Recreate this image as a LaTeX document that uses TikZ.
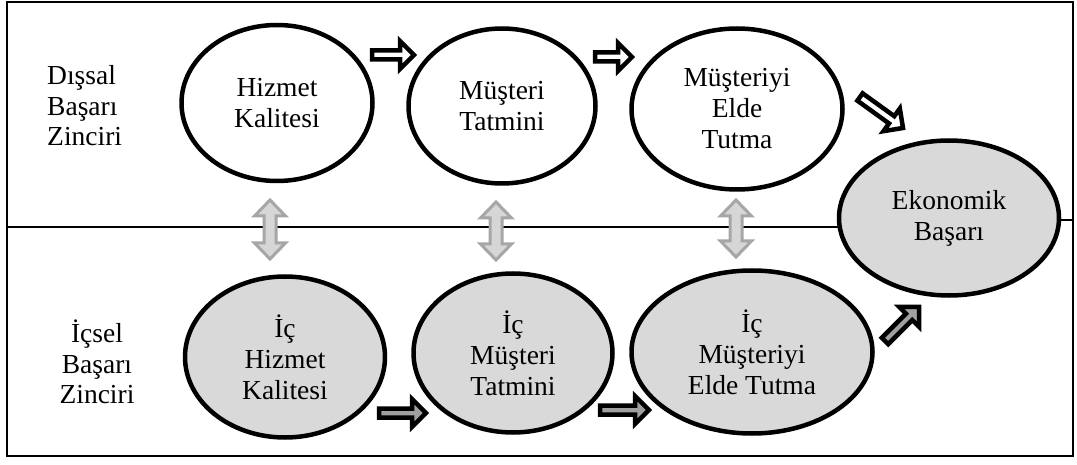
\documentclass[tikz,border=0pt]{standalone}
\usepackage{fontspec}
\setmainfont{Liberation Serif}
\usetikzlibrary{shapes.geometric,calc}

\definecolor{stagegray}{RGB}{217,217,217}
\definecolor{linkedge}{RGB}{166,166,166}
\definecolor{linkfill}{RGB}{214,214,214}
\definecolor{flowgray}{RGB}{160,160,160}

% block arrow from #1 (tail) to #2 (tip), drawn with style #3
\newcommand\flowarrow[3]{%
  \draw[#3]
    ($(#1)!4.5pt!90:(#2)$)
    -- ($(#2)!14pt!(#1)!4.5pt!90:(#2)$)
    -- ($(#2)!14pt!(#1)!14pt!90:(#2)$)
    -- (#2)
    -- ($(#2)!14pt!(#1)!14pt!-90:(#2)$)
    -- ($(#2)!14pt!(#1)!4.5pt!-90:(#2)$)
    -- ($(#1)!4.5pt!-90:(#2)$)
    -- cycle;}

% two-headed block arrow between #1 and #2, drawn with style #3
\newcommand\pairarrow[3]{%
  \draw[#3]
    (#1)
    -- ($(#1)!16pt!(#2)!15.5pt!90:(#2)$)
    -- ($(#1)!16pt!(#2)!6pt!90:(#2)$)
    -- ($(#2)!16pt!(#1)!6pt!-90:(#1)$)
    -- ($(#2)!16pt!(#1)!15.5pt!-90:(#1)$)
    -- (#2)
    -- ($(#2)!16pt!(#1)!15.5pt!90:(#1)$)
    -- ($(#2)!16pt!(#1)!6pt!90:(#1)$)
    -- ($(#1)!16pt!(#2)!6pt!-90:(#2)$)
    -- ($(#1)!16pt!(#2)!15.5pt!-90:(#2)$)
    -- cycle;}

\begin{document}
\begin{tikzpicture}[x=1pt,y=-1pt,
  stage/.style={ellipse, draw=black, line width=4.5pt, inner sep=0pt,
    align=center, font=\fontsize{27.5}{31}\selectfont},
  outerstage/.style={stage, fill=white},
  innerstage/.style={stage, fill=stagegray},
  chainname/.style={inner sep=0pt, font=\fontsize{27.5}{30.5}\selectfont},
  outerflow/.style={draw=black, fill=white, line width=4.5pt, line join=miter},
  innerflow/.style={draw=black, fill=flowgray, line width=4.5pt, line join=miter},
  link/.style={draw=linkedge, fill=linkfill, line width=3pt, line join=miter}]

\useasboundingbox (0,0) rectangle (1077,465);

% frame and the divider between the two chains
\draw[line width=1.5pt] (7,2) rectangle (1073,456);
\draw[line width=2.5pt] (7,456) -- (1073,456);
\coordinate (divL) at (7,227);
\coordinate (divLm) at (900,227);
\coordinate (divRm) at (1000,220);
\coordinate (divR) at (1073,220);
\draw[line width=1.5pt] (divL) -- (divLm);
\draw[line width=1.5pt] (divRm) -- (divR);

% chain names
\node[chainname, anchor=west, align=left] (ext) at (47,106) {Dışsal\\Başarı\\Zinciri};
\node[chainname, align=center] (int) at (97,362) {İçsel\\Başarı\\Zinciri};

% external chain
\node[outerstage, minimum width=191pt, minimum height=156pt] (hk) at (277,103) {Hizmet\\Kalitesi};
\node[outerstage, minimum width=187pt, minimum height=155pt] (mt) at (502,106) {Müşteri\\Tatmini};
\node[outerstage, minimum width=211pt, minimum height=161pt] (me) at (737,109) {Müşteriyi\\Elde\\Tutma};

% economic success
\node[innerstage, minimum width=220pt, minimum height=155pt] (eb) at (949,218) {Ekonomik\\Başarı};

% internal chain
\node[innerstage, minimum width=200pt, minimum height=161pt] (ihk) at (285,357) {İç\\Hizmet\\Kalitesi};
\node[innerstage, minimum width=199pt, minimum height=159pt] (imt) at (513,353) {İç\\Müşteri\\Tatmini};
\node[innerstage, minimum width=241pt, minimum height=163pt] (ime) at (752,352) {İç\\Müşteriyi\\Elde Tutma};

% arrow end points
\coordinate (o1s) at (372,55);  \coordinate (o1t) at (414,55);
\coordinate (o2s) at (595,57);  \coordinate (o2t) at (632,57);
\coordinate (o3s) at (860,97);  \coordinate (o3t) at (903,128);
\coordinate (i1s) at (379,413); \coordinate (i1t) at (426,413);
\coordinate (i2s) at (600,410); \coordinate (i2t) at (649,410);
\coordinate (i3s) at (885,341); \coordinate (i3t) at (919,307);
\coordinate (l1a) at (270,200); \coordinate (l1b) at (270,259);
\coordinate (l2a) at (496,202); \coordinate (l2b) at (496,260);
\coordinate (l3a) at (736,200); \coordinate (l3b) at (736,257);

% external flow
\flowarrow{o1s}{o1t}{outerflow}
\flowarrow{o2s}{o2t}{outerflow}
\flowarrow{o3s}{o3t}{outerflow}

% internal flow
\flowarrow{i1s}{i1t}{innerflow}
\flowarrow{i2s}{i2t}{innerflow}
\flowarrow{i3s}{i3t}{innerflow}

% links between the chains
\pairarrow{l1a}{l1b}{link}
\pairarrow{l2a}{l2b}{link}
\pairarrow{l3a}{l3b}{link}
\end{tikzpicture}
\end{document}
